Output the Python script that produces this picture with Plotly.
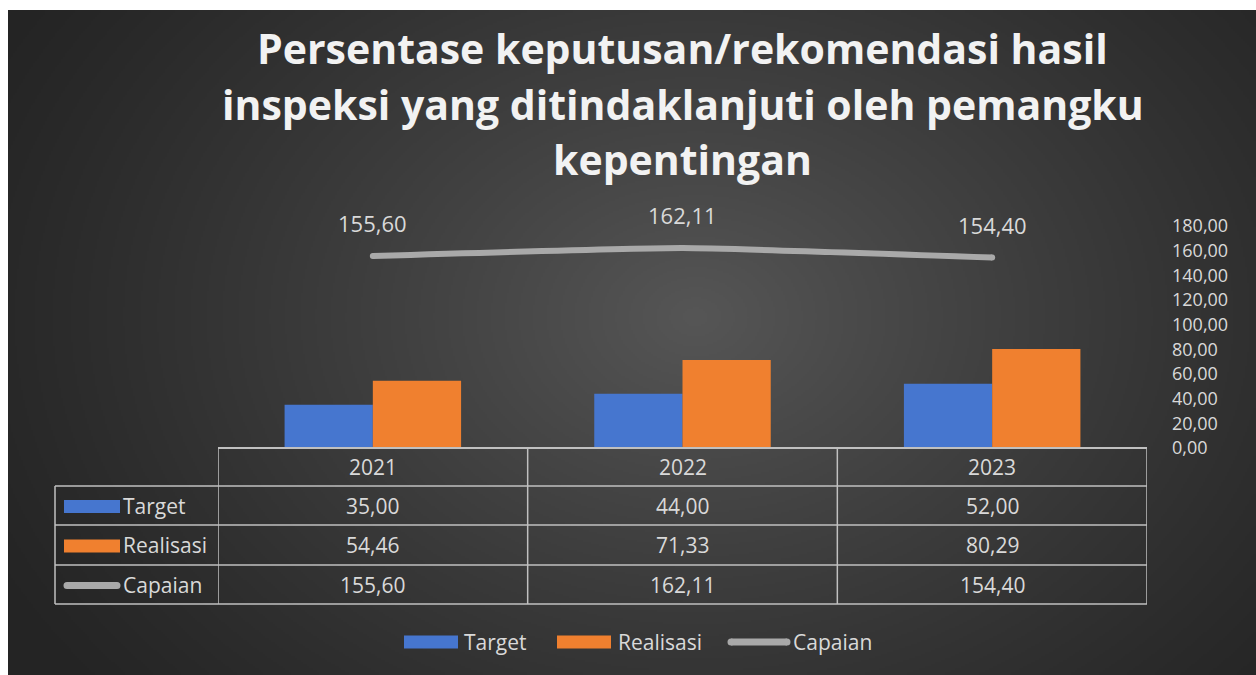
import base64
import struct
import zlib

import numpy as np
import plotly.graph_objects as go

# ---- data -------------------------------------------------------------
years = ["2021", "2022", "2023"]
target = [35.00, 44.00, 52.00]
realisasi = [54.46, 71.33, 80.29]
capaian = [155.60, 162.11, 154.40]

series_names = ["Target", "Realisasi", "Capaian"]
title_lines = [
    "Persentase keputusan/rekomendasi hasil",
    "inspeksi yang ditindaklanjuti oleh pemangku",
    "kepentingan",
]
y_ticks = [0, 20, 40, 60, 80, 100, 120, 140, 160, 180]

# ---- style ------------------------------------------------------------
BLUE = "#4676cf"
ORANGE = "#f0802f"
GREY_LINE = "#a9a9a9"
GRID = "#c0c0c0"
TEXT = "#d9d9d9"
TITLE = "#f2f2f2"
FONT = "Open Sans"

W, H = 1256, 675
L, R, T, B = 218, 1147, 226, 448  # plot-area box in pixels


def px(x):
    return (x - L) / (R - L)


def py(y):
    return (B - y) / (B - T)


def fmt(v):
    return f"{v:.2f}".replace(".", ",")


# ---- radial dark background as an inline PNG --------------------------
def gradient_png(w, h):
    yy, xx = np.mgrid[0:h, 0:w].astype(float)
    cx, cy = w * 0.55, h * 0.46
    r = np.sqrt(((xx - cx) / (w * 0.64)) ** 2 + ((yy - cy) / (h * 0.9)) ** 2)
    r = np.clip(r, 0, 1)
    v = 36 + (86 - 36) * (1 - r) ** 1.2
    img = np.clip(v, 0, 255).astype(np.uint8)
    raw = b"".join(b"\x00" + img[i].tobytes() for i in range(h))

    def chunk(tag, data):
        c = struct.pack(">I", len(data)) + tag + data
        return c + struct.pack(">I", zlib.crc32(tag + data) & 0xFFFFFFFF)

    png = b"\x89PNG\r\n\x1a\n"
    png += chunk(b"IHDR", struct.pack(">IIBBBBB", w, h, 8, 0, 0, 0, 0))
    png += chunk(b"IDAT", zlib.compress(raw, 9))
    png += chunk(b"IEND", b"")
    return "data:image/png;base64," + base64.b64encode(png).decode()


bg_left, bg_top = 8, 10
bg_src = gradient_png((W - bg_left) // 2, (H - bg_top) // 2)

# ---- traces -----------------------------------------------------------
fig = go.Figure()
fig.add_trace(go.Bar(x=years, y=target, name=series_names[0],
                     marker=dict(color=BLUE, line=dict(width=0))))
fig.add_trace(go.Bar(x=years, y=realisasi, name=series_names[1],
                     marker=dict(color=ORANGE, line=dict(width=0))))
fig.add_trace(go.Scatter(x=years, y=capaian, name=series_names[2],
                         mode="lines+markers",
                         line=dict(color=GREY_LINE, width=6, shape="spline", smoothing=0.4),
                         marker=dict(color=GREY_LINE, size=6, line=dict(width=0))))

annotations = []
shapes = []

# value labels above the Capaian line (category index positions)
for i, v in enumerate(capaian):
    annotations.append(dict(x=i, y=v, xref="x", yref="y", text=fmt(v),
                            showarrow=False, yshift=33,
                            font=dict(family=FONT, size=22, color=TEXT)))

# title
for line, yc in zip(title_lines, [48, 104, 159]):
    annotations.append(dict(x=0.5, y=py(yc), xref="paper", yref="paper", text=f"<b>{line}</b>",
                            showarrow=False, xanchor="center", yanchor="middle",
                            font=dict(family=FONT, size=41, color=TITLE)))

# ---- data table under the plot ---------------------------------------
row_edges = [448, 486, 525, 565, 604]
table_left = 55
n = len(years)
shapes.append(dict(type="line", xref="x", yref="paper", x0=-0.5, x1=n - 0.5,
                   y0=py(row_edges[0]), y1=py(row_edges[0]), line=dict(color=GRID, width=2)))
for ye in row_edges[1:]:
    shapes.append(dict(type="line", xref="paper", yref="paper", x0=px(table_left), x1=1,
                       y0=py(ye), y1=py(ye), line=dict(color=GRID, width=1.5)))
for i in range(n + 1):
    shapes.append(dict(type="line", xref="x", yref="paper", x0=i - 0.5, x1=i - 0.5,
                       y0=py(row_edges[0]), y1=py(row_edges[-1]), line=dict(color=GRID, width=1.5)))
shapes.append(dict(type="line", xref="paper", yref="paper", x0=px(table_left), x1=px(table_left),
                   y0=py(row_edges[1]), y1=py(row_edges[-1]), line=dict(color=GRID, width=1.5)))

cell_font = dict(family=FONT, size=21, color=TEXT)
hdr_mid = (row_edges[0] + row_edges[1]) / 2
for i, yr in enumerate(years):
    annotations.append(dict(x=i, y=py(hdr_mid), xref="x", yref="paper", text=yr,
                            showarrow=False, yanchor="middle", font=cell_font))

rows = [target, realisasi, capaian]
for k, (name, vals) in enumerate(zip(series_names, rows)):
    mid = (row_edges[k + 1] + row_edges[k + 2]) / 2
    for i, v in enumerate(vals):
        annotations.append(dict(x=i, y=py(mid), xref="x", yref="paper", text=fmt(v),
                                showarrow=False, yanchor="middle", font=cell_font))
    annotations.append(dict(x=px(121), y=py(mid), xref="paper", yref="paper", text=name,
                            showarrow=False, xanchor="left", yanchor="middle", font=cell_font))


def swatch(x0, x1, yc, kind):
    if kind == 2:
        shapes.append(dict(type="line", xref="paper", yref="paper", x0=px(x0 + 3), x1=px(x1 - 3),
                           y0=py(yc), y1=py(yc), line=dict(color=GREY_LINE, width=7)))
        for xe in (x0 + 3, x1 - 3):
            shapes.append(dict(type="circle", xref="paper", yref="paper",
                               x0=px(xe - 3.5), x1=px(xe + 3.5), y0=py(yc - 3.5), y1=py(yc + 3.5),
                               fillcolor=GREY_LINE, line=dict(width=0)))
    else:
        shapes.append(dict(type="rect", xref="paper", yref="paper", x0=px(x0), x1=px(x1),
                           y0=py(yc - 6.5), y1=py(yc + 6.5),
                           fillcolor=[BLUE, ORANGE][kind], line=dict(width=0)))


for k in range(3):
    mid = (row_edges[k + 1] + row_edges[k + 2]) / 2
    swatch(64, 120, mid + 1, k)

# ---- legend at the bottom ---------------------------------------------
legend_y = 642
legend_items = [(404, 458, 462), (557, 611, 616), (728, 790, 791)]
for k, (s0, s1, tx) in enumerate(legend_items):
    swatch(s0, s1, legend_y, k)
    annotations.append(dict(x=px(tx), y=py(legend_y), xref="paper", yref="paper",
                            text=series_names[k], showarrow=False, xanchor="left",
                            yanchor="middle", font=cell_font))

# ---- layout -------------------------------------------------------------
fig.update_layout(
    width=W, height=H,
    margin=dict(l=L, r=W - R, t=T, b=H - B, pad=0),
    paper_bgcolor="white",
    plot_bgcolor="rgba(0,0,0,0)",
    separators=",.",
    barmode="group",
    bargap=0.43,
    bargroupgap=0,
    showlegend=False,
    font=dict(family=FONT, color=TEXT),
    xaxis=dict(type="category", range=[-0.5, n - 0.5], showticklabels=False, showgrid=False,
               zeroline=False, showline=False, ticks=""),
    yaxis=dict(range=[0, 180], side="right", tickvals=y_ticks, tickformat=".2f",
               showgrid=False, zeroline=False, showline=False, ticks="",
               ticklabelstandoff=24, tickfont=dict(family=FONT, size=18, color=TEXT)),
    images=[dict(source=bg_src, xref="paper", yref="paper",
                 x=px(bg_left), y=py(bg_top), sizex=px(W) - px(bg_left),
                 sizey=py(bg_top) - py(H), xanchor="left", yanchor="top",
                 sizing="stretch", layer="below")],
    shapes=shapes,
    annotations=annotations,
)

fig.write_html("out.html")
